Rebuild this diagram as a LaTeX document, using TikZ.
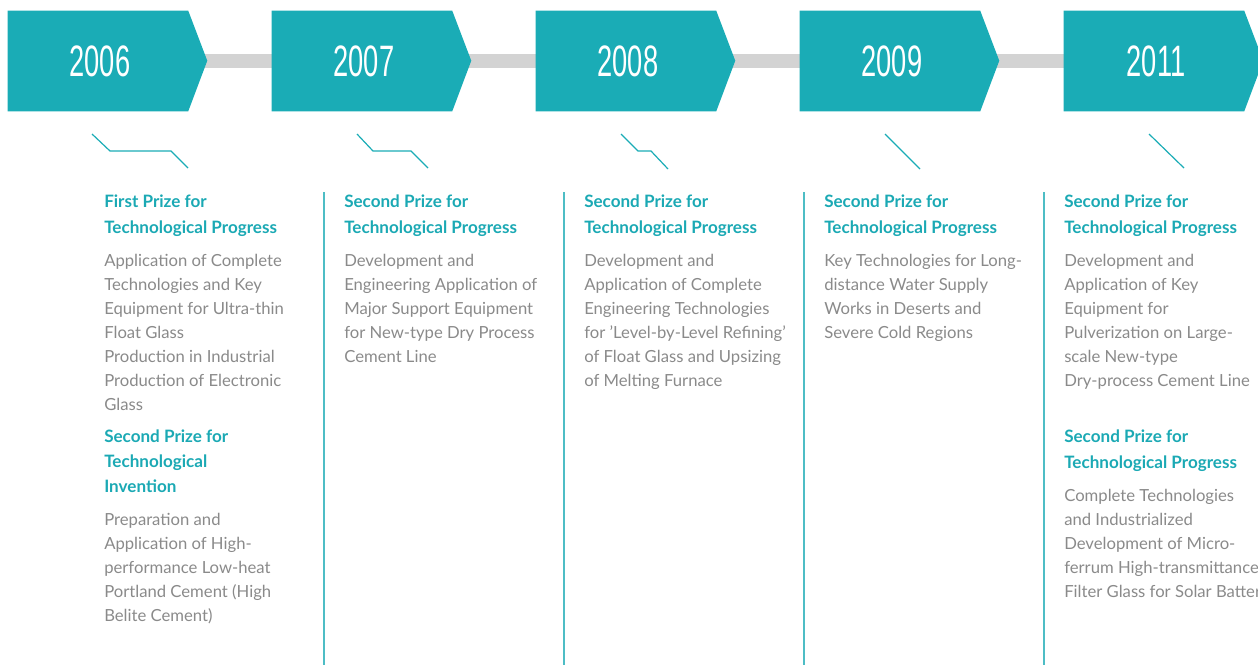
\documentclass[tikz,border=0pt]{standalone}
\usepackage{fontspec}
\setmainfont{Lato}
\newfontfamily\yearfont[FakeStretch=0.62]{Liberation Sans}
\usetikzlibrary{backgrounds}
\definecolor{boxteal}{HTML}{1AACB6}
\definecolor{titleteal}{HTML}{1BA9B4}
\definecolor{bodygray}{HTML}{8A8A8A}
\definecolor{bargray}{HTML}{D3D3D3}
\definecolor{lineteal}{HTML}{4DBDC5}
\tikzset{
	yearbox/.style={rectangle, text=white, minimum width=135pt, minimum height=75pt, inner sep=0pt, font=\yearfont\fontsize{33}{33}\selectfont},
	prize/.style={anchor=north west, inner sep=0pt, align=left, text=titleteal, font=\bfseries\fontsize{12.8}{19.5}\selectfont},
	project/.style={anchor=north west, inner sep=0pt, align=left, text=bodygray, font=\fontsize{12.5}{18}\selectfont},
	bar/.style={draw=bargray, line width=10.5pt},
	divider/.style={draw=lineteal, line width=1.2pt},
	zigzag/.style={draw=boxteal, line width=0.9pt}
}

\begin{document}
\begin{tikzpicture}[x=0.75pt, y=-0.75pt]
	\useasboundingbox (0,0) rectangle (1258,665);
	\node[yearbox] (y06) at (98,61) {\hspace{3pt}2006};
	\node[yearbox] (y07) at (362,61) {\hspace{3pt}2007};
	\node[yearbox] (y08) at (626,61) {\hspace{3pt}2008};
	\node[yearbox] (y09) at (890,61) {\hspace{3pt}2009};
	\node[yearbox] (y11) at (1154,61) {\hspace{3pt}2011};
	\begin{pgfonlayer}{background}
		\draw[bar] (y06.east) -- (y07.west);
		\draw[bar] (y07.east) -- (y08.west);
		\draw[bar] (y08.east) -- (y09.west);
		\draw[bar] (y09.east) -- (y11.west);
		\foreach \y in {y06,y07,y08,y09,y11}
			\fill[boxteal] (\y.north west) -- (\y.north east) -- ++(19,50) -- (\y.south east) -- (\y.south west) -- cycle;
	\end{pgfonlayer}
	\draw[zigzag] (92,134) -- (110,151) -- (171,151) -- (188,168);
	\draw[zigzag] (357,134) -- (373,151) -- (411,151) -- (428,168);
	\draw[zigzag] (621,134) -- (638,151) -- (651,151) -- (668,169);
	\draw[zigzag] (885,134) -- (920,169);
	\draw[zigzag] (1149,134) -- (1184,168);
	\draw[divider] (324,192) -- (324,665);
	\draw[divider] (564,192) -- (564,665);
	\draw[divider] (804,192) -- (804,665);
	\draw[divider] (1044,192) -- (1044,665);
	\node[prize] (p06a) at (104,195) {First Prize for\\Technological Progress};
	\node[project] (d06a) at (104,254) {Application of Complete\\Technologies and Key\\Equipment for Ultra-thin\\Float Glass\\Production in Industrial\\Production of Electronic\\Glass};
	\node[prize, font=\bfseries\fontsize{12.8}{18.75}\selectfont] (p06b) at (104,430) {Second Prize for\\Technological\\Invention};
	\node[project] (d06b) at (104,513) {Preparation and\\Application of High-\\performance Low-heat\\Portland Cement (High\\Belite Cement)};
	\node[prize] (p07) at (344,195) {Second Prize for\\Technological Progress};
	\node[project] (d07) at (344,254) {Development and\\Engineering Application of\\Major Support Equipment\\for New-type Dry Process\\Cement Line};
	\node[prize] (p08) at (584,195) {Second Prize for\\Technological Progress};
	\node[project] (d08) at (584,254) {Development and\\Application of Complete\\Engineering Technologies\\for 'Level-by-Level Refining'\\of Float Glass and Upsizing\\of Melting Furnace};
	\node[prize] (p09) at (824,195) {Second Prize for\\Technological Progress};
	\node[project] (d09) at (824,254) {Key Technologies for Long-\\distance Water Supply\\Works in Deserts and\\Severe Cold Regions};
	\node[prize] (p11a) at (1064,195) {Second Prize for\\Technological Progress};
	\node[project] (d11a) at (1064,254) {Development and\\Application of Key\\Equipment for\\Pulverization on Large-\\scale New-type\\Dry-process Cement Line};
	\node[prize] (p11b) at (1064,430) {Second Prize for\\Technological Progress};
	\node[project] (d11b) at (1064,489) {Complete Technologies\\and Industrialized\\Development of Micro-\\ferrum High-transmittance\\Filter Glass for Solar Battery};
\end{tikzpicture}
\end{document}
